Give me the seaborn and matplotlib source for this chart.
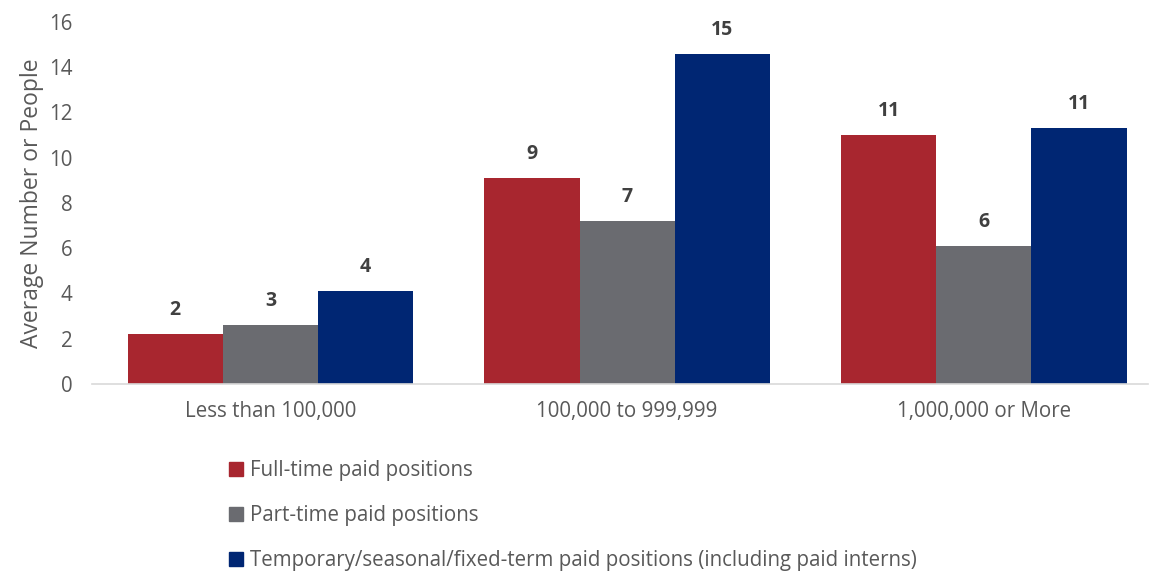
import pandas as pd
import numpy as np
import matplotlib
matplotlib.use('Agg')
import matplotlib.pyplot as plt
import seaborn as sns
from matplotlib.lines import Line2D

sizes = ['Less than 100,000', '100,000 to 999,999', '1,000,000 or More']
positions = ['Full-time paid positions',
             'Part-time paid positions',
             'Temporary/seasonal/fixed-term paid positions (including paid interns)']
full_time = [2.2, 9.1, 11.0]
part_time = [2.6, 7.2, 6.1]
temporary = [4.1, 14.6, 11.3]
colors = ['#A8262F', '#6A6B70', '#002673']

rows = []
for i, s in enumerate(sizes):
    for p, vals in zip(positions, [full_time, part_time, temporary]):
        rows.append({'size': s, 'position': p, 'value': vals[i]})
df = pd.DataFrame(rows)

sns.set_style('white')
plt.rcParams['font.family'] = ['Open Sans', 'DejaVu Sans']
txt = '#595959'

fig = plt.figure(figsize=(11.56, 5.72), dpi=100)
ax = fig.add_axes([0.0796, 0.3287, 0.9135, 0.6329])
sns.barplot(data=df, x='size', y='value', hue='position', palette=colors,
            width=0.8, ax=ax, legend=False, saturation=1, linewidth=0)

for c in ax.containers:
    ax.bar_label(c, labels=['{:.0f}'.format(v) for v in c.datavalues],
                 padding=10, fontsize=14, fontweight='bold', color='#404040')

ax.set_ylim(0, 16)
ax.set_yticks(range(0, 17, 2))
ax.set_xlim(-0.5, 2.46)
ax.set_xlabel('')
ax.set_ylabel('Average Number or People', fontsize=16.5, color=txt, labelpad=4)
ax.tick_params(axis='both', length=0, labelsize=14.8, labelcolor=txt)
ax.tick_params(axis='x', pad=12)
ax.tick_params(axis='y', pad=14)
for side in ['top', 'right', 'left']:
    ax.spines[side].set_visible(False)
ax.spines['bottom'].set_color('#D9D9D9')
ax.spines['bottom'].set_linewidth(1.2)

handles = [Line2D([0], [0], marker='s', linestyle='', markersize=10.5,
                  markerfacecolor=c, markeredgecolor=c) for c in colors]
fig.legend(handles, positions, loc='upper left', bbox_to_anchor=(0.188, 0.21),
           frameon=False, fontsize=14.8, labelcolor=txt, labelspacing=1.17,
           handletextpad=0.2, borderaxespad=0, handlelength=1.0)

fig.savefig('out.png', dpi=100)
